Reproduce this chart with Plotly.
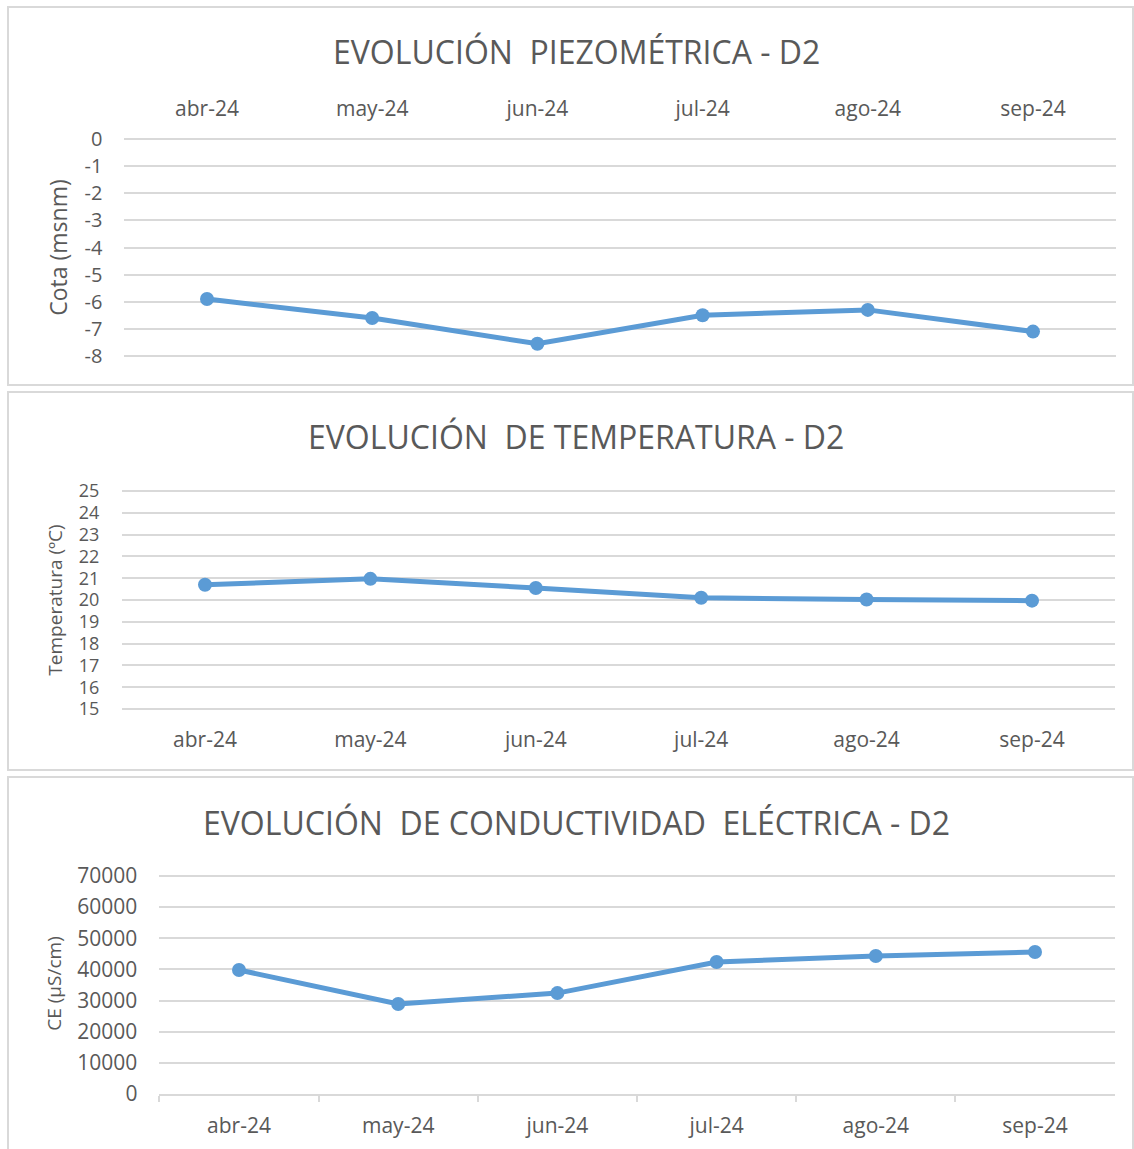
import plotly.graph_objects as go

W, H = 1134, 1149

months = ["abr-24", "may-24", "jun-24", "jul-24", "ago-24", "sep-24"]
cota = [-5.9, -6.6, -7.55, -6.5, -6.3, -7.1]
temperatura = [20.7, 20.97, 20.55, 20.1, 20.02, 19.97]
conductividad = [39800, 28900, 32400, 42400, 44300, 45600]

cota_ticks = [0, -1, -2, -3, -4, -5, -6, -7, -8]
temp_ticks = [15, 16, 17, 18, 19, 20, 21, 22, 23, 24, 25]
ce_ticks = [0, 10000, 20000, 30000, 40000, 50000, 60000, 70000]

titles = [
    "EVOLUCIÓN  PIEZOMÉTRICA - D2",
    "EVOLUCIÓN  DE TEMPERATURA - D2",
    "EVOLUCIÓN  DE CONDUCTIVIDAD  ELÉCTRICA - D2",
]

FONT = "Open Sans, sans-serif"
GRAY = "#595959"
GRID = "#d9d9d9"
BLUE = "#5b9bd5"


def px_x(x):
    return x / W


def px_y(y):
    return 1 - y / H


def y_frame(top_px, bot_px, vmin, vmax, pad_top=3, pad_bot=3):
    """Domain and range so vmax sits at top_px and vmin at bot_px, with a few
    pixels of slack so plotly keeps the edge gridlines."""
    upx = (vmax - vmin) / (bot_px - top_px)
    domain = [px_y(bot_px + pad_bot), px_y(top_px - pad_top)]
    rng = [vmin - pad_bot * upx, vmax + pad_top * upx]
    return domain, rng


fig = go.Figure()

series = [cota, temperatura, conductividad]
for i, vals in enumerate(series, start=1):
    fig.add_trace(
        go.Scatter(
            x=months,
            y=vals,
            mode="lines+markers",
            line=dict(color=BLUE, width=5),
            marker=dict(color=BLUE, size=14),
            xaxis=f"x{i}" if i > 1 else "x",
            yaxis=f"y{i}" if i > 1 else "y",
            showlegend=False,
            hoverinfo="x+y",
        )
    )

xfont = dict(family=FONT, size=21, color=GRAY)

dom1, rng1 = y_frame(139, 356, min(cota_ticks), max(cota_ticks))
dom2, rng2 = y_frame(491, 709, min(temp_ticks), max(temp_ticks))
dom3, rng3 = y_frame(876, 1094, min(ce_ticks), max(ce_ticks), pad_bot=0)

fig.update_layout(
    width=W,
    height=H,
    margin=dict(l=0, r=0, t=0, b=0, autoexpand=False),
    paper_bgcolor="white",
    plot_bgcolor="white",
    font=dict(family=FONT, color=GRAY),
    # panel 1 - piezometrica
    xaxis=dict(
        domain=[px_x(124.4), px_x(1115.6)],
        anchor="y",
        side="top",
        type="category",
        range=[-0.5, 5.5],
        automargin=False,
        showgrid=False,
        showline=False,
        ticks="",
        tickfont=xfont,
        ticklabelstandoff=15,
    ),
    yaxis=dict(
        domain=dom1,
        anchor="x",
        range=rng1,
        automargin=False,
        tickmode="array",
        tickvals=cota_ticks,
        ticktext=[str(v) for v in cota_ticks],
        showgrid=True,
        gridcolor=GRID,
        gridwidth=2,
        zeroline=False,
        tickfont=dict(family=FONT, size=20, color=GRAY),
        ticklabelstandoff=21,
        title=dict(text="Cota (msnm)", font=dict(family=FONT, size=23, color=GRAY), standoff=10),
    ),
    # panel 2 - temperatura
    xaxis2=dict(
        domain=[px_x(122.3), px_x(1114.7)],
        anchor="y2",
        type="category",
        range=[-0.5, 5.5],
        automargin=False,
        showgrid=False,
        showline=False,
        ticks="",
        tickfont=xfont,
        ticklabelstandoff=13,
    ),
    yaxis2=dict(
        domain=dom2,
        anchor="x2",
        range=rng2,
        automargin=False,
        tickmode="array",
        tickvals=temp_ticks,
        ticktext=[str(v) for v in temp_ticks],
        showgrid=True,
        gridcolor=GRID,
        gridwidth=2,
        zeroline=False,
        tickfont=dict(family=FONT, size=18, color=GRAY),
        ticklabelstandoff=22,
        title=dict(text="Temperatura (ºC)", font=dict(family=FONT, size=19, color=GRAY), standoff=11),
    ),
    # panel 3 - conductividad
    xaxis3=dict(
        domain=[px_x(159.4), px_x(1114.6)],
        anchor="y3",
        type="category",
        range=[-0.5, 5.5],
        automargin=False,
        showgrid=False,
        showline=True,
        linecolor=GRID,
        linewidth=2,
        ticks="outside",
        tickson="boundaries",
        ticklen=6,
        tickwidth=2,
        tickcolor=GRID,
        tickfont=xfont,
        ticklabelstandoff=12,
    ),
    yaxis3=dict(
        domain=dom3,
        anchor="x3",
        range=rng3,
        automargin=False,
        tickmode="array",
        tickvals=ce_ticks,
        ticktext=[str(v) for v in ce_ticks],
        showgrid=True,
        gridcolor=GRID,
        gridwidth=2,
        zeroline=False,
        tickfont=dict(family=FONT, size=21, color=GRAY),
        ticklabelstandoff=21,
        title=dict(text="CE (µS/cm)", font=dict(family=FONT, size=19, color=GRAY), standoff=10),
    ),
)

# panel frames
frames = [(7, 385), (392, 770), (777, 1160)]
for y0, y1 in frames:
    fig.add_shape(
        type="rect",
        xref="paper",
        yref="paper",
        x0=px_x(8),
        x1=px_x(1133),
        y0=px_y(y1),
        y1=px_y(y0),
        line=dict(color=GRID, width=2),
        layer="below",
    )

# titles
title_y = [52, 437, 822]
for text, ty in zip(titles, title_y):
    fig.add_annotation(
        text=text,
        xref="paper",
        yref="paper",
        x=px_x(576),
        y=px_y(ty),
        showarrow=False,
        xanchor="center",
        yanchor="middle",
        font=dict(family=FONT, size=32, color=GRAY),
    )

# pin the graph div to the page corner so it fills the window exactly
pin = (
    "document.body.style.margin='0';"
    "var d=document.getElementById('{plot_id}');"
    "d.style.position='absolute';d.style.left='0px';d.style.top='0px';"
)

fig.write_html("out.html", post_script=pin, config={"displayModeBar": False})
